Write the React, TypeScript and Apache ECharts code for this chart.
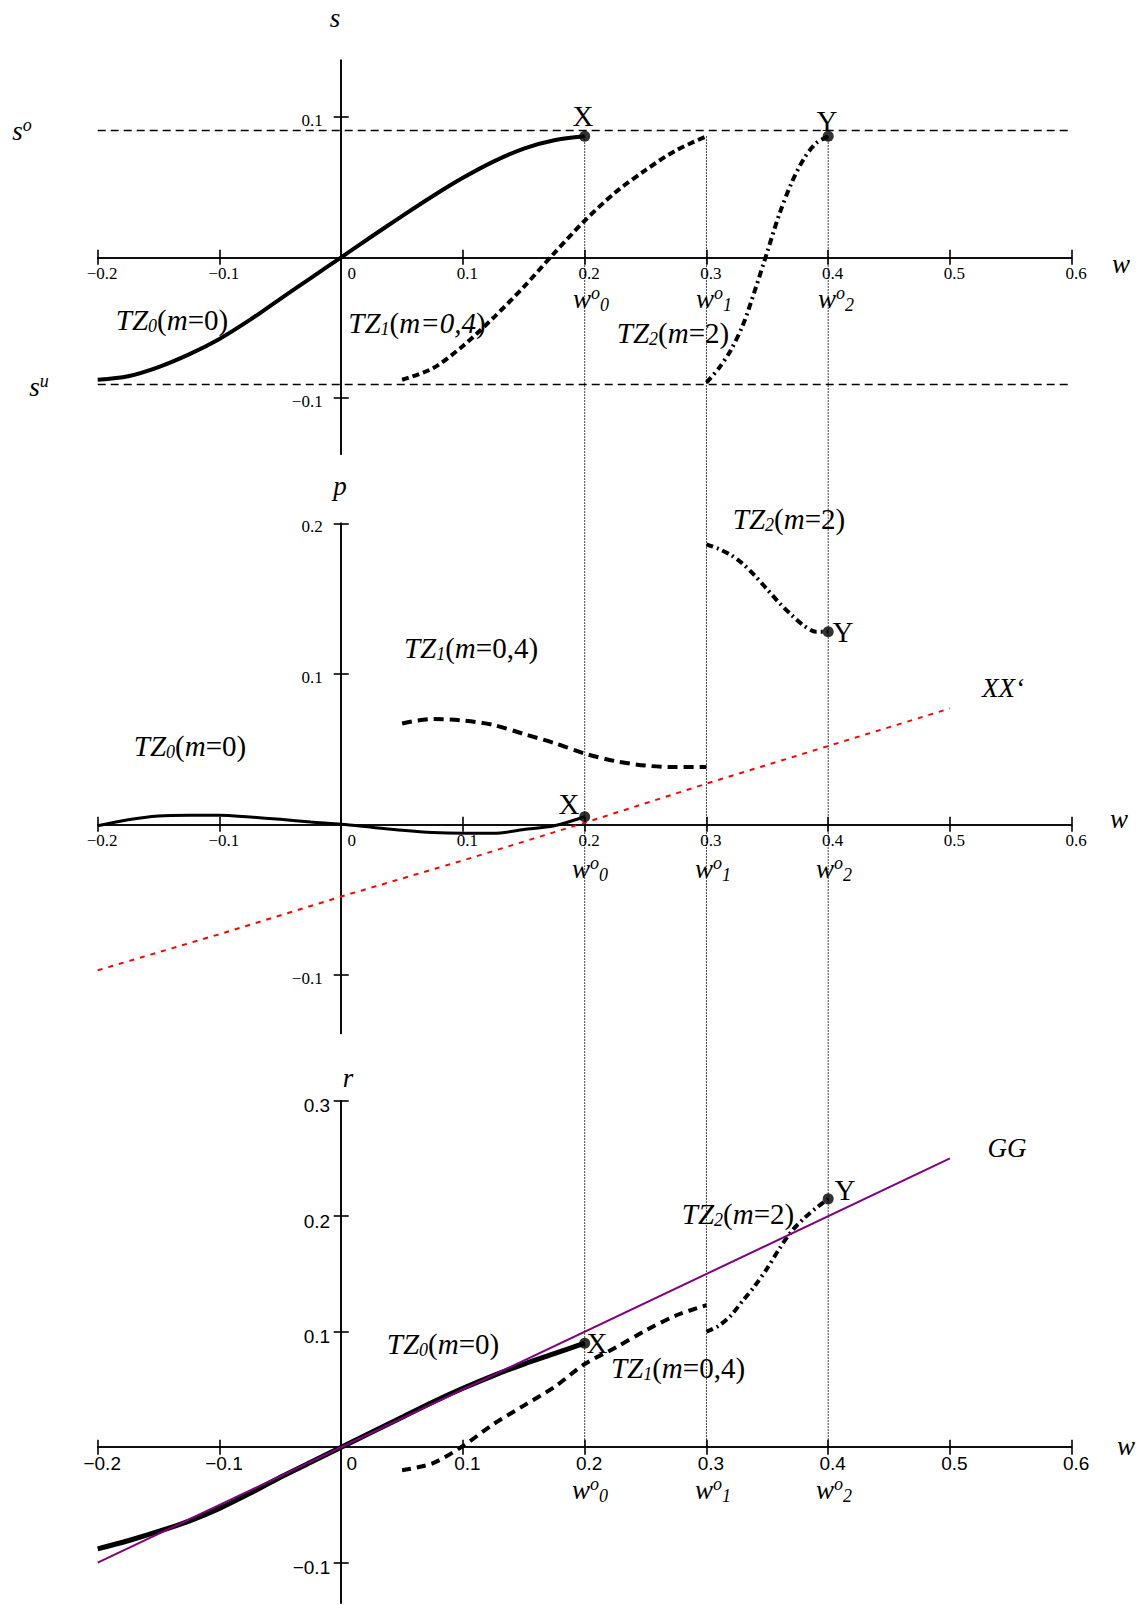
import React, { useEffect, useRef } from 'react';
import * as echarts from 'echarts';

// ---------------- data ----------------
const X_TICKS = [-0.2, -0.1, 0, 0.1, 0.2, 0.3, 0.4, 0.5, 0.6];
const S_TICKS = [-0.1, 0.1];
const P_TICKS = [-0.1, 0.1, 0.2];
const R_TICKS = [-0.1, 0.1, 0.2, 0.3];

const W_TZ0 = [-0.2, -0.175, -0.15, -0.125, -0.1, -0.075, -0.05, -0.025, 0, 0.025, 0.05, 0.075, 0.1, 0.125, 0.15, 0.175, 0.2];
const W_TZ1 = [0.05, 0.075, 0.1, 0.125, 0.15, 0.175, 0.2, 0.225, 0.25, 0.275, 0.3];
const W_TZ2 = [0.3, 0.31, 0.32, 0.33, 0.34, 0.35, 0.36, 0.37, 0.38, 0.39, 0.4];

// panel s
const S_TZ0 = [-0.087, -0.0845, -0.078, -0.069, -0.058, -0.0445, -0.0295, -0.0148, 0, 0.0148, 0.0293, 0.0434, 0.0565, 0.068, 0.0773, 0.0832, 0.086];
const S_TZ1 = [-0.087, -0.079, -0.063, -0.043, -0.021, 0.003, 0.026, 0.046, 0.062, 0.076, 0.086];
const S_TZ2 = [-0.089, -0.079, -0.066, -0.048, -0.023, 0.004, 0.031, 0.053, 0.070, 0.081, 0.086];
const S_UPPER = 0.086;
const S_LOWER = -0.09;

// panel p
const P_TZ0 = [-0.001, 0.003, 0.0055, 0.006, 0.006, 0.0048, 0.0033, 0.0015, 0, -0.002, -0.004, -0.0055, -0.006, -0.006, -0.0035, -0.001, 0.005];
const P_TZ1 = [0.067, 0.070, 0.069, 0.066, 0.060, 0.054, 0.047, 0.042, 0.039, 0.038, 0.038];
const P_TZ2 = [0.186, 0.183, 0.179, 0.173, 0.165, 0.156, 0.147, 0.139, 0.132, 0.128, 0.128];
const W_XX = [-0.2, -0.1, 0, 0.1, 0.2, 0.3, 0.4, 0.5];
const P_XX = [-0.097, -0.073, -0.048, -0.024, 0.001, 0.027, 0.052, 0.077];

// panel r
const R_TZ0 = [-0.088, -0.081, -0.073, -0.064, -0.053, -0.040, -0.026, -0.013, 0, 0.013, 0.026, 0.039, 0.051, 0.062, 0.072, 0.081, 0.090];
const R_TZ1 = [-0.020, -0.014, 0.001, 0.020, 0.036, 0.052, 0.072, 0.086, 0.101, 0.114, 0.123];
const R_TZ2 = [0.100, 0.105, 0.114, 0.127, 0.140, 0.155, 0.172, 0.187, 0.198, 0.207, 0.215];
const W_GG = [-0.2, 0.5];
const R_GG = [-0.1, 0.25];

// marked points X and Y
const W_MARK = [0.2, 0.4];
const S_MARK = [0.086, 0.086];
const P_MARK = [0.005, 0.128];
const R_MARK = [0.09, 0.215];

// optimal w values (dotted verticals)
const W_OPT = [0.2, 0.3, 0.4];

// ---------------- styles / layout ----------------
const SERIF = "'Liberation Serif', 'Times New Roman', serif";
const SANS = "'Liberation Sans', Arial, sans-serif";

const GRIDS = [
  { top: 60.3, height: 394, min: -0.14, max: 0.14, ticks: S_TICKS, font: SERIF, fs: 17, yRight: 18.5, yDy: 3.5, xDx: 4.5, xDy: 16, zeroDx: 10.5 },
  { top: 523.3, height: 510.2, min: -0.139, max: 0.2, ticks: P_TICKS, font: SERIF, fs: 17, yRight: 18.5, yDy: 3.5, xDx: 4.5, xDy: 16, zeroDx: 10.5 },
  { top: 1100.7, height: 502.4, min: -0.135, max: 0.3, ticks: R_TICKS, font: SANS, fs: 19, yRight: 11, yDy: 5, xDx: 4.5, xDy: 16, zeroDx: 10.5 },
];
const GRID_LEFT = 97.7;
const GRID_WIDTH = 974;

const pairs = (xs: number[], ys: number[]) => xs.map((x, i) => [x, ys[i]]);
const fmt = (v: number) => (v < 0 ? '\u2212' + String(Math.abs(v)) : String(v));

function buildOption() {
  const grid: any[] = [];
  const xAxis: any[] = [];
  const yAxis: any[] = [];
  GRIDS.forEach((g, gi) => {
    grid.push({ left: GRID_LEFT, width: GRID_WIDTH, top: g.top, height: g.height, outerBoundsMode: 'none', containLabel: false });
    const axLine = (idx: number) => ({ show: true, onZero: true, onZeroAxisIndex: idx, lineStyle: { color: '#000', width: 1.6 } });
    [false, true].forEach((inside) => {
      xAxis.push({
        gridIndex: gi, type: 'value', min: -0.2, max: 0.6, position: 'bottom',
        axisLine: axLine(gi * 2),
        axisTick: { show: true, inside, length: 7.5, customValues: X_TICKS, lineStyle: { color: '#000', width: 1.6 } },
        axisLabel: { show: false },
        splitLine: { show: false },
      });
      yAxis.push({
        gridIndex: gi, type: 'value', min: g.min, max: g.max, position: 'left',
        axisLine: axLine(gi * 2),
        axisTick: { show: true, inside, length: 7.5, customValues: g.ticks, lineStyle: { color: '#000', width: 1.6 } },
        axisLabel: { show: false },
        splitLine: { show: false },
      });
    });
  });

  const line = (gi: number, xs: number[], ys: number[], ls: any, extra: any = {}) => ({
    type: 'line', xAxisIndex: gi * 2, yAxisIndex: gi * 2, data: pairs(xs, ys),
    symbol: 'none', showSymbol: false, smooth: 0.3, silent: true, z: 3,
    lineStyle: ls, ...extra,
  });
  const dots = (gi: number, ys: number[]) => ({
    type: 'scatter', xAxisIndex: gi * 2, yAxisIndex: gi * 2, data: pairs(W_MARK, ys),
    symbol: 'circle', symbolSize: 11, itemStyle: { color: '#000' }, silent: true, z: 6,
  });

  const series: any[] = [
    // top panel s
    line(0, W_TZ0, S_TZ0, { color: '#000', width: 4, type: 'solid' }, {
      markLine: {
        silent: true, symbol: ['none', 'none'], label: { show: false },
        lineStyle: { color: '#000', width: 1.3, type: [8, 5] },
        data: [{ yAxis: S_UPPER }, { yAxis: S_LOWER }],
      },
    }),
    line(0, W_TZ1, S_TZ1, { color: '#000', width: 4, type: [7, 4] }),
    line(0, W_TZ2, S_TZ2, { color: '#000', width: 4, type: [7, 4, 2, 4] }),
    dots(0, S_MARK),
    // middle panel p
    line(1, W_XX, P_XX, { color: '#ff0000', width: 2, type: [5, 6] }, { smooth: false, z: 2 }),
    line(1, W_TZ0, P_TZ0, { color: '#000', width: 3, type: 'solid' }),
    line(1, W_TZ1, P_TZ1, { color: '#000', width: 4, type: [10, 6] }),
    line(1, W_TZ2, P_TZ2, { color: '#000', width: 4, type: [7, 4, 2, 4] }),
    dots(1, P_MARK),
    // bottom panel r
    line(2, W_TZ0, R_TZ0, { color: '#000', width: 5, type: 'solid' }),
    line(2, W_TZ1, R_TZ1, { color: '#000', width: 4, type: [9, 6] }),
    line(2, W_TZ2, R_TZ2, { color: '#000', width: 4, type: [7, 4, 2, 4] }),
    line(2, W_GG, R_GG, { color: '#800080', width: 2, type: 'solid' }, { smooth: false, z: 4 }),
    dots(2, R_MARK),
  ];

  return { animation: false, backgroundColor: '#fff', grid, xAxis, yAxis, series };
}

const RICH: any = {
  i: { fontFamily: SERIF, fontStyle: 'italic', fontSize: 29, fill: '#000', lineHeight: 30 },
  n: { fontFamily: SERIF, fontSize: 29, fill: '#000', lineHeight: 30 },
  w: { fontFamily: SERIF, fontStyle: 'italic', fontSize: 27, fill: '#000', lineHeight: 30 },
  sb: { fontFamily: SERIF, fontStyle: 'italic', fontSize: 18, fill: '#000', lineHeight: 16, verticalAlign: 'bottom' },
  sp: { fontFamily: SERIF, fontStyle: 'italic', fontSize: 18, fill: '#000', lineHeight: 10, verticalAlign: 'top' },
};

const T = (x: number, y: number, text: string) => ({
  type: 'text', x, y, silent: true, z: 20,
  style: { text, rich: RICH, align: 'center', verticalAlign: 'middle', fill: '#000', fontFamily: SERIF, fontSize: 29 },
});

const TZ0 = '{i|TZ}{sb|0}{n|(}{i|m}{n|=0)}';
const TZ1 = '{i|TZ}{sb|1}{n|(}{i|m}{n|=0,4)}';
const TZ1I = '{i|TZ}{sb|1}{n|(}{i|m=0,4}{n|)}';
const TZ2 = '{i|TZ}{sb|2}{n|(}{i|m}{n|=2)}';
const WO = (k: number) => `{w|w}{sp|o}{sb|${k}}`;

const TEXTS = [
  // top
  T(335, 18, '{w|s}'), T(1121, 264, '{w|w}'),
  T(22, 131, '{w|s}{sp|o}'), T(39, 387, '{w|s}{sp|u}'),
  T(583, 116, '{n|X}'), T(827, 121, '{n|Y}'),
  T(172, 320, TZ0), T(417, 323, TZ1I), T(673, 333, TZ2),
  T(591, 299, WO(0)), T(714, 299, WO(1)), T(836, 299, WO(2)),
  // middle
  T(340, 486, '{w|p}'), T(1119, 819, '{w|w}'),
  T(789, 519, TZ2), T(471, 648, TZ1), T(190, 746, TZ0),
  T(1003, 688, '{w|XX\u2018}'), T(569, 804, '{n|X}'), T(843, 632, '{n|Y}'),
  T(590, 869, WO(0)), T(713, 869, WO(1)), T(834, 869, WO(2)),
  // bottom
  T(348, 1078, '{w|r}'), T(1126, 1446, '{w|w}'),
  T(1007, 1148, '{w|GG}'), T(738, 1214, TZ2), T(845, 1190, '{n|Y}'),
  T(443, 1344, TZ0), T(597, 1343, '{n|X}'), T(678, 1368, TZ1),
  T(590, 1490, WO(0)), T(713, 1490, WO(1)), T(834, 1490, WO(2)),
];

export default function App() {
  const ref = useRef<HTMLDivElement>(null);
  useEffect(() => {
    document.body.style.margin = '0';
    const el = ref.current as HTMLDivElement;
    const chart = echarts.init(el, null, { renderer: 'svg' });
    chart.setOption(buildOption());
    const px = (g: number, v: number[]) => chart.convertToPixel({ gridIndex: g } as any, v) as unknown as number[];
    const lines = W_OPT.map((w) => {
      const a = px(0, [w, S_UPPER]);
      const b = px(2, [w, 0]);
      return {
        type: 'line', silent: true, z: 1,
        shape: { x1: a[0], y1: a[1], x2: b[0], y2: b[1] },
        style: { stroke: '#000', lineWidth: 1, lineDash: [1.5, 1.5] },
      };
    });
    const tickTexts: any[] = [];
    GRIDS.forEach((g, gi) => {
      X_TICKS.forEach((v) => {
        const p = px(gi, [v, 0]);
        tickTexts.push({
          type: 'text', silent: true, z: 15,
          x: p[0] + (v === 0 ? g.zeroDx : g.xDx), y: p[1] + g.xDy,
          style: { text: fmt(v), fontFamily: g.font, fontSize: g.fs, fill: '#000', align: 'center', verticalAlign: 'middle' },
        });
      });
      g.ticks.forEach((v) => {
        const p = px(gi, [0, v]);
        tickTexts.push({
          type: 'text', silent: true, z: 15,
          x: p[0] - g.yRight, y: p[1] + g.yDy,
          style: { text: fmt(v), fontFamily: g.font, fontSize: g.fs, fill: '#000', align: 'right', verticalAlign: 'middle' },
        });
      });
    });
    chart.setOption({ graphic: [...lines, ...tickTexts, ...TEXTS] });
    return () => chart.dispose();
  }, []);
  return <div ref={ref} style={{ width: 1138, height: 1605 }} />;
}
